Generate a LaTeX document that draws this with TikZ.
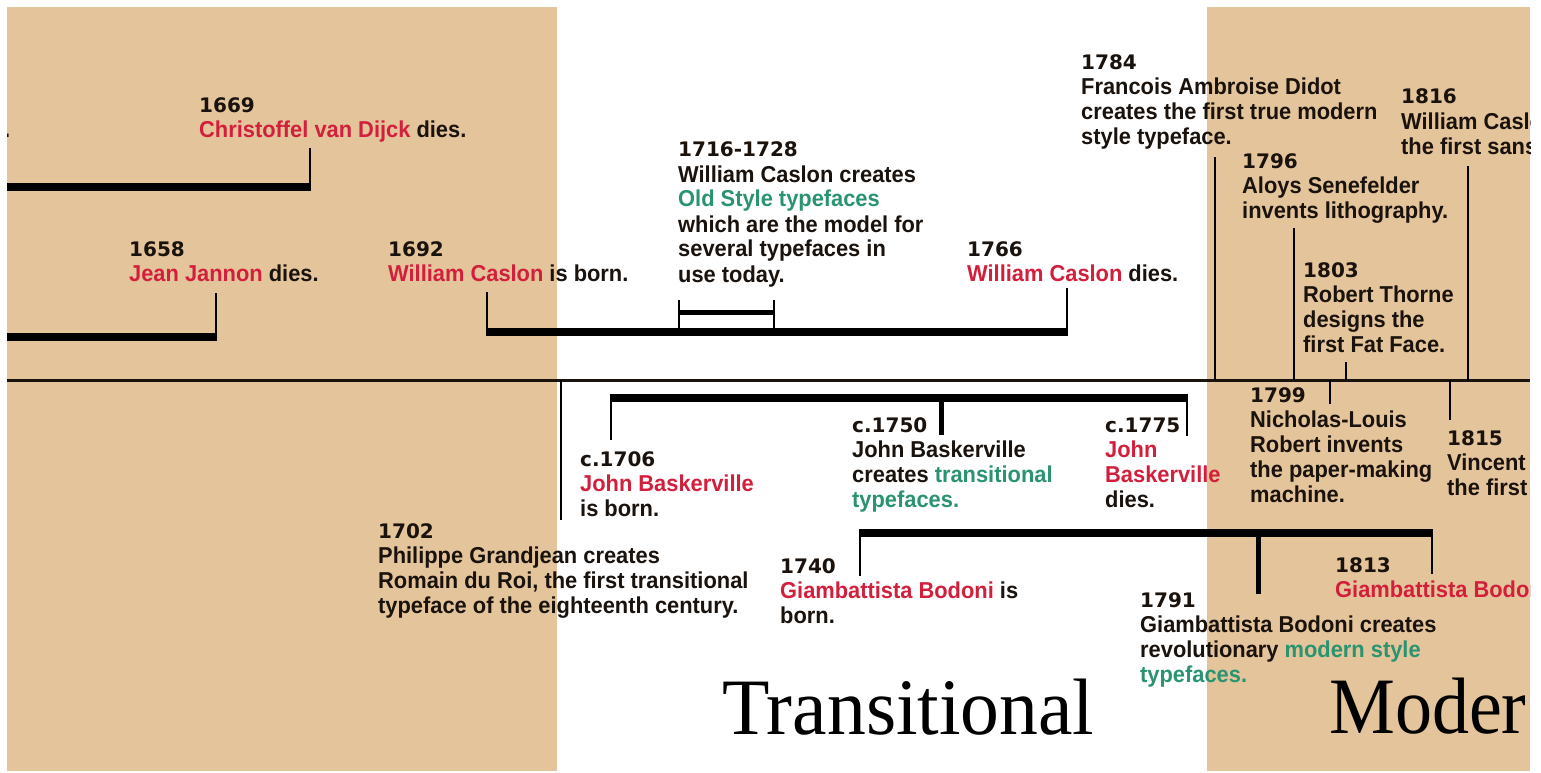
\documentclass[tikz,border=0pt]{standalone}
\usepackage{fontspec}
\usepackage{graphicx}
\setmainfont{Liberation Sans}[FakeStretch=0.95]
\newfontfamily\yrfont{DejaVu Sans}
\newfontfamily\titlefont{Liberation Serif}
\definecolor{tanbg}{HTML}{E4C49B}
\definecolor{cred}{HTML}{D21F3C}
\definecolor{cgreen}{HTML}{2A9470}
\definecolor{ink}{HTML}{1A120C}
\newcommand\rd[1]{\textcolor{cred}{#1}}
\newcommand\gr[1]{\textcolor{cgreen}{#1}}
\newcommand\rowx[1]{\hbox{#1}}
\newcommand\evtext[2]{\vtop{\fontsize{23}{25}\selectfont\bfseries\lineskiplimit=-100pt\lineskip=0pt
  \hbox{\fontsize{20}{25}\selectfont\yrfont\bfseries #1}#2}}
\tikzset{
  ev/.style={anchor=base west, inner sep=0pt, text=ink},
  mainline/.style={draw=ink, line width=3pt},
  bar/.style={draw=black, line width=8.5pt},
  smallbar/.style={draw=black, line width=5pt},
  tick/.style={draw=black, line width=2pt},
  thicktick/.style={draw=black, line width=5pt},
  titletext/.style={anchor=base west, inner sep=0pt, text=black}
}
\begin{document}
\begin{tikzpicture}[x=1pt,y=-1pt]
\fill[white] (0,0) rectangle (1541,773);
\useasboundingbox (0,0) rectangle (1541,773);
\fill[tanbg] (7,7) rectangle (557,771);
\fill[tanbg] (1207,7) rectangle (1530,771);
\begin{scope}
\clip (7,7) rectangle (1530,771);
% coordinates
\coordinate (ml) at (7,380);
\coordinate (mr) at (1530,380);
\coordinate (b1l) at (7,187);   \coordinate (b1r) at (311,187);  \coordinate (t1669) at (310,148);
\coordinate (b2l) at (7,337);   \coordinate (b2r) at (217,337);  \coordinate (t1658) at (216,293);
\coordinate (b3l) at (486,332); \coordinate (b3r) at (1068,332);
\coordinate (t1692) at (487,292); \coordinate (t1766) at (1067,288);
\coordinate (b1692) at (487,336); \coordinate (b1766) at (1067,336);
\coordinate (sbl) at (678,312); \coordinate (sbr) at (775,312);
\coordinate (s1a) at (679,300); \coordinate (s1b) at (679,329);
\coordinate (s2a) at (774,300); \coordinate (s2b) at (774,329);
\coordinate (t1784) at (1215,157); \coordinate (m1784) at (1215,380);
\coordinate (t1796) at (1294,228); \coordinate (m1796) at (1294,380);
\coordinate (t1803) at (1346,362); \coordinate (m1803) at (1346,380);
\coordinate (t1816) at (1468,166); \coordinate (m1816) at (1468,380);
\coordinate (m1702) at (561,380); \coordinate (t1702) at (561,520);
\coordinate (b4l) at (610,398); \coordinate (b4r) at (1188,398);
\coordinate (u1706) at (611,398); \coordinate (t1706) at (611,440);
\coordinate (u1750) at (941,398); \coordinate (t1750) at (941,435);
\coordinate (u1775) at (1187,398); \coordinate (t1775) at (1187,436);
\coordinate (b5l) at (859,533); \coordinate (b5r) at (1433,533);
\coordinate (u1740) at (860,533); \coordinate (t1740) at (860,576);
\coordinate (u1791) at (1258,533); \coordinate (t1791) at (1258,594);
\coordinate (u1813) at (1432,533); \coordinate (t1813) at (1432,574);
\coordinate (m1799) at (1330,380); \coordinate (t1799) at (1330,404);
\coordinate (m1815) at (1450,380); \coordinate (t1815) at (1450,420);
% connectors
\draw[mainline] (ml) -- (mr);
\draw[bar] (b1l) -- (b1r);
\draw[tick] (b1r) ++(-1,0) -- (t1669);
\draw[bar] (b2l) -- (b2r);
\draw[tick] (b2r) ++(-1,0) -- (t1658);
\draw[bar] (b3l) -- (b3r);
\draw[tick] (b1692) -- (t1692);
\draw[tick] (b1766) -- (t1766);
\draw[smallbar] (sbl) -- (sbr);
\draw[tick] (s1a) -- (s1b);
\draw[tick] (s2a) -- (s2b);
\draw[tick] (m1784) -- (t1784);
\draw[tick] (m1796) -- (t1796);
\draw[tick] (m1803) -- (t1803);
\draw[tick] (m1816) -- (t1816);
\draw[tick] (m1702) -- (t1702);
\draw[bar] (b4l) -- (b4r);
\draw[tick] (u1706) -- (t1706);
\draw[thicktick] (u1750) -- (t1750);
\draw[tick] (u1775) -- (t1775);
\draw[bar] (b5l) -- (b5r);
\draw[tick] (u1740) -- (t1740);
\draw[thicktick] (u1791) -- (t1791);
\draw[tick] (u1813) -- (t1813);
\draw[tick] (m1799) -- (t1799);
\draw[tick] (m1815) -- (t1815);
% texts
\node[ev] (edot) at (4,137) {\fontsize{23}{25}\selectfont\bfseries .};
\node[ev] (e1669) at (199,113) {\evtext{1669}{\rowx{\rd{Christoffel van Dijck} dies.}}};
\node[ev] (e1658) at (129,256) {\evtext{1658}{\rowx{\rd{Jean Jannon} dies.}}};
\node[ev] (e1692) at (388,256) {\evtext{1692}{\rowx{\rd{William Caslon} is born.}}};
\node[ev] (e1716) at (678,157) {\evtext{1716-1728}{\rowx{William Caslon creates}\rowx{\gr{Old Style typefaces}}\rowx{which are the model for}\rowx{several typefaces in}\rowx{use today.}}};
\node[ev] (e1766) at (967,256) {\evtext{1766}{\rowx{\rd{William Caslon} dies.}}};
\node[ev] (e1784) at (1081,70) {\evtext{1784}{\rowx{Francois Ambroise Didot}\rowx{creates the first true modern}\rowx{style typeface.}}};
\node[ev] (e1796) at (1242,168) {\evtext{1796}{\rowx{Aloys Senefelder}\rowx{invents lithography.}}};
\node[ev] (e1803) at (1303,277) {\evtext{1803}{\rowx{Robert Thorne}\rowx{designs the}\rowx{first Fat Face.}}};
\node[ev] (e1816) at (1401,104) {\evtext{1816}{\rowx{William Caslon}\rowx{the first sans}}};
\node[ev] (e1702) at (378,538) {\evtext{1702}{\rowx{Philippe Grandjean creates}\rowx{Romain du Roi, the first transitional}\rowx{typeface of the eighteenth century.}}};
\node[ev] (e1706) at (580,466) {\evtext{c.1706}{\rowx{\rd{John Baskerville}}\rowx{is born.}}};
\node[ev] (e1750) at (852,432) {\evtext{c.1750}{\rowx{John Baskerville}\rowx{creates \gr{transitional}}\rowx{\gr{typefaces.}}}};
\node[ev] (e1775) at (1105,432) {\evtext{c.1775}{\rowx{\rd{John}}\rowx{\rd{Baskerville}}\rowx{dies.}}};
\node[ev] (e1740) at (780,573) {\evtext{1740}{\rowx{\rd{Giambattista Bodoni} is}\rowx{born.}}};
\node[ev] (e1791) at (1140,607) {\evtext{1791}{\rowx{Giambattista Bodoni creates}\rowx{revolutionary \gr{modern style}}\rowx{\gr{typefaces.}}}};
\node[ev] (e1813) at (1335,572) {\evtext{1813}{\rowx{\rd{Giambattista Bodoni}}}};
\node[ev] (e1799) at (1250,402) {\evtext{1799}{\rowx{Nicholas-Louis}\rowx{Robert invents}\rowx{the paper-making}\rowx{machine.}}};
\node[ev] (e1815) at (1447,445) {\evtext{1815}{\rowx{Vincent}\rowx{the first}}};
\node[titletext] (ttrans) at (722,734) {\titlefont\fontsize{80}{80}\selectfont\scalebox{0.97}[1]{Transitional}};
\node[titletext] (tmod) at (1329,733) {\titlefont\fontsize{80}{80}\selectfont\scalebox{0.925}[1]{Moder}};
\end{scope}
\end{tikzpicture}
\end{document}
